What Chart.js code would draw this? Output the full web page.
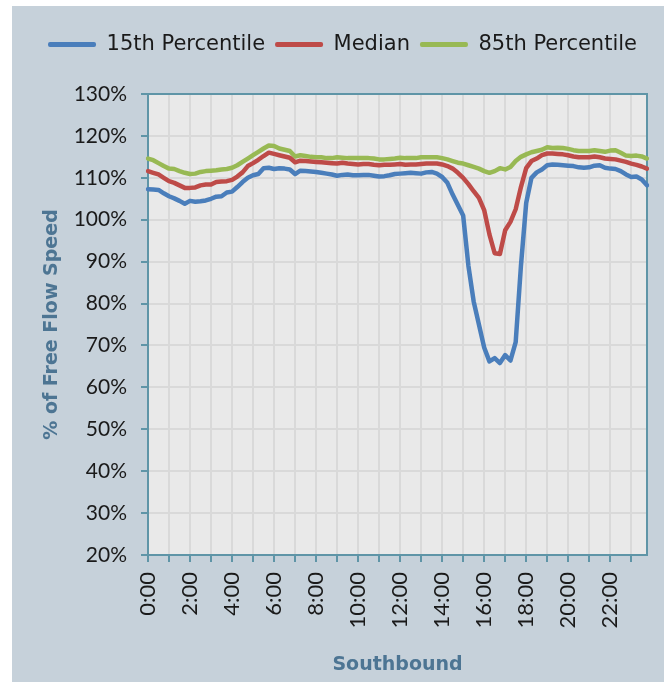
<!DOCTYPE html>
<html>
<head>
<meta charset="utf-8">
<script src="https://cdn.jsdelivr.net/npm/chart.js@4.4.0/dist/chart.umd.min.js"></script>
<style>
  body { margin: 0; background: #fff; }
  #wrap { width: 664px; height: 689px; }
</style>
</head>
<body>
<div id="wrap"><canvas id="myChart" width="664" height="689"></canvas></div>
<script>
// 15-minute intervals, 0:00 .. 23:45
let timeLabels = [];
for (let h = 0; h < 24; h++) {
  for (let m of ["00", "15", "30", "45"]) timeLabels.push(h + ":" + m);
}

let p15 = [
  107.3, 107.2, 107.1, 106.3, 105.6, 105.1, 104.5, 103.8, 104.5, 104.3,
  104.4, 104.6, 105.0, 105.5, 105.6, 106.5, 106.7, 107.8, 109.0, 110.0,
  110.6, 110.9, 112.3, 112.4, 112.1, 112.3, 112.2, 112.0, 110.9, 111.7,
  111.6, 111.5, 111.4, 111.2, 111.0, 110.8, 110.5, 110.7, 110.8, 110.6,
  110.6, 110.7, 110.7, 110.5, 110.3, 110.4, 110.6, 110.9, 111.0, 111.1,
  111.2, 111.1, 111.0, 111.3, 111.4, 111.0, 110.2, 108.8, 106.0, 103.5,
  101.0, 89.0, 80.5, 75.0, 69.5, 66.2, 67.0, 65.8, 67.7, 66.4,
  70.8, 89.0, 104.0, 110.0, 111.3, 112.0, 113.0, 113.2, 113.1, 113.0,
  112.9, 112.8, 112.5, 112.4, 112.5, 112.9, 113.0, 112.4, 112.2, 112.1,
  111.6, 110.8, 110.2, 110.3, 109.6, 108.2
];

let median = [
  111.6, 111.2, 110.8, 110.0, 109.2, 108.8, 108.2, 107.6, 107.6, 107.7,
  108.2, 108.4, 108.4, 109.0, 109.1, 109.2, 109.5, 110.3, 111.3, 112.8,
  113.5, 114.3, 115.2, 116.0, 115.7, 115.4, 115.1, 114.8, 113.7, 114.1,
  114.0, 113.9, 113.8, 113.7, 113.6, 113.5, 113.4, 113.6, 113.4, 113.3,
  113.2, 113.3, 113.3, 113.1, 113.0, 113.1, 113.1, 113.2, 113.3, 113.1,
  113.2, 113.2, 113.3, 113.4, 113.4, 113.4, 113.2, 112.8, 112.2, 111.2,
  110.0, 108.5, 106.8, 105.2, 102.3, 96.5, 92.0, 91.8, 97.5, 99.5,
  102.5, 107.8, 112.3, 114.0, 114.6, 115.4, 115.8, 115.8, 115.7, 115.6,
  115.4, 115.1, 114.9, 114.9, 114.9, 115.1, 114.9, 114.6, 114.5, 114.4,
  114.1, 113.8, 113.4, 113.1, 112.7, 112.2
];

let p85 = [
  114.6, 114.2, 113.5, 112.8, 112.2, 112.1, 111.6, 111.2, 110.9, 111.0,
  111.4, 111.6, 111.7, 111.8, 112.0, 112.1, 112.4, 113.0, 113.8, 114.6,
  115.4, 116.2, 117.0, 117.7, 117.6, 117.0, 116.7, 116.4, 115.1, 115.4,
  115.2, 115.0, 114.9, 114.9, 114.7, 114.7, 114.9, 114.8, 114.7, 114.7,
  114.7, 114.7, 114.7, 114.6, 114.4, 114.4, 114.5, 114.6, 114.8, 114.7,
  114.7, 114.7, 114.9, 114.9, 114.9, 114.9, 114.7, 114.4, 114.0, 113.6,
  113.4, 113.0, 112.6, 112.2, 111.6, 111.2, 111.6, 112.3, 112.0, 112.6,
  114.0, 115.0, 115.6, 116.1, 116.4, 116.7, 117.3, 117.1, 117.2, 117.1,
  116.9, 116.6, 116.4, 116.4, 116.4, 116.6, 116.4, 116.2, 116.5, 116.6,
  116.0, 115.3, 115.2, 115.3, 115.1, 114.6
];

let seriesNames = ["15th Percentile", "Median", "85th Percentile"];
let seriesColors = ["#4a7ebb", "#be4b48", "#98b954"];

let axisColor = "#5f95a7";
let gridColor = "#d9d9d9";
let titleColor = "#4d7593";

Chart.defaults.font.family = "Lato";
Chart.defaults.color = "#1a1a1a";

// panel background, plot background and plot frame
let chartBackground = {
  id: "chartBackground",
  beforeInit(chart) {
    let fit = chart.legend.fit;
    chart.legend.fit = function () {
      fit.call(this);
      this.height = 70;
    };
  },
  beforeDraw(chart) {
    let c = chart.ctx;
    let a = chart.chartArea;
    c.save();
    c.fillStyle = "#c6d1da";
    c.fillRect(12, 6, 652, 676);
    c.fillStyle = "#e9e9e9";
    c.fillRect(a.left, a.top, a.right - a.left, a.bottom - a.top);
    c.restore();
  },
  beforeDatasetsDraw(chart) {
    let c = chart.ctx;
    let a = chart.chartArea;
    c.save();
    c.strokeStyle = axisColor;
    c.lineWidth = 2;
    c.beginPath();
    c.moveTo(a.left, a.top);
    c.lineTo(a.right, a.top);
    c.lineTo(a.right, a.bottom);
    c.stroke();
    c.restore();
  }
};

let datasets = [p15, median, p85].map((vals, i) => ({
  label: seriesNames[i],
  data: vals,
  borderColor: seriesColors[i],
  backgroundColor: seriesColors[i],
  borderWidth: 4.5,
  pointRadius: 0,
  tension: 0,
  fill: false,
  borderJoinStyle: "round",
  borderCapStyle: "round"
}));

let ctx = document.getElementById("myChart");

let myChart = new Chart(ctx, {
  type: "line",
  data: { labels: timeLabels, datasets: datasets },
  options: {
    responsive: false,
    animation: false,
    layout: { padding: { top: 24, left: 12, right: 17, bottom: 0 } },
    plugins: {
      legend: {
        position: "top",
        align: "end",
        labels: {
          font: { family: "DejaVu Sans", size: 21 },
          color: "#1a1a1a",
          boxWidth: 48,
          boxHeight: 5,
          padding: 10,
          generateLabels(chart) {
            let items = Chart.defaults.plugins.legend.labels.generateLabels(chart);
            items.forEach((it) => {
              it.lineWidth = 0;
              it.fillStyle = it.strokeStyle;
              it.borderRadius = 2;
            });
            return items;
          }
        }
      },
      tooltip: { enabled: false }
    },
    scales: {
      x: {
        afterFit(scale) {
          scale.height = 134;
          scale.paddingLeft = 0;
          scale.paddingRight = 0;
        },
        grid: {
          color: (c) => (c.index % 4 === 0 ? gridColor : "rgba(0,0,0,0)"),
          tickColor: (c) => (c.index % 4 === 0 ? axisColor : "rgba(0,0,0,0)"),
          lineWidth: 2,
          tickWidth: 2,
          tickLength: 7
        },
        border: { color: axisColor, width: 2 },
        ticks: {
          autoSkip: false,
          maxRotation: 90,
          minRotation: 90,
          padding: 10,
          font: { size: 22 },
          color: "#1a1a1a",
          callback: (v, i) => (i % 8 === 0 ? timeLabels[i] : "")
        },
        title: {
          display: true,
          text: "Southbound",
          color: titleColor,
          font: { family: "DejaVu Sans", size: 19, weight: "bold" },
          padding: { top: 0, bottom: 13 }
        }
      },
      y: {
        min: 20,
        max: 130,
        afterFit(scale) { scale.width = 136; },
        grid: {
          color: gridColor,
          tickColor: axisColor,
          lineWidth: 2,
          tickWidth: 2,
          tickLength: 7
        },
        border: { color: axisColor, width: 2 },
        ticks: {
          stepSize: 10,
          padding: 14,
          font: { size: 21 },
          color: "#1a1a1a",
          callback: (v) => v + "%"
        },
        title: {
          display: true,
          text: "% of Free Flow Speed",
          color: titleColor,
          font: { family: "DejaVu Sans", size: 19, weight: "bold" },
          padding: { top: 29, bottom: 0 }
        }
      }
    }
  },
  plugins: [chartBackground]
});
</script>
</body>
</html>
